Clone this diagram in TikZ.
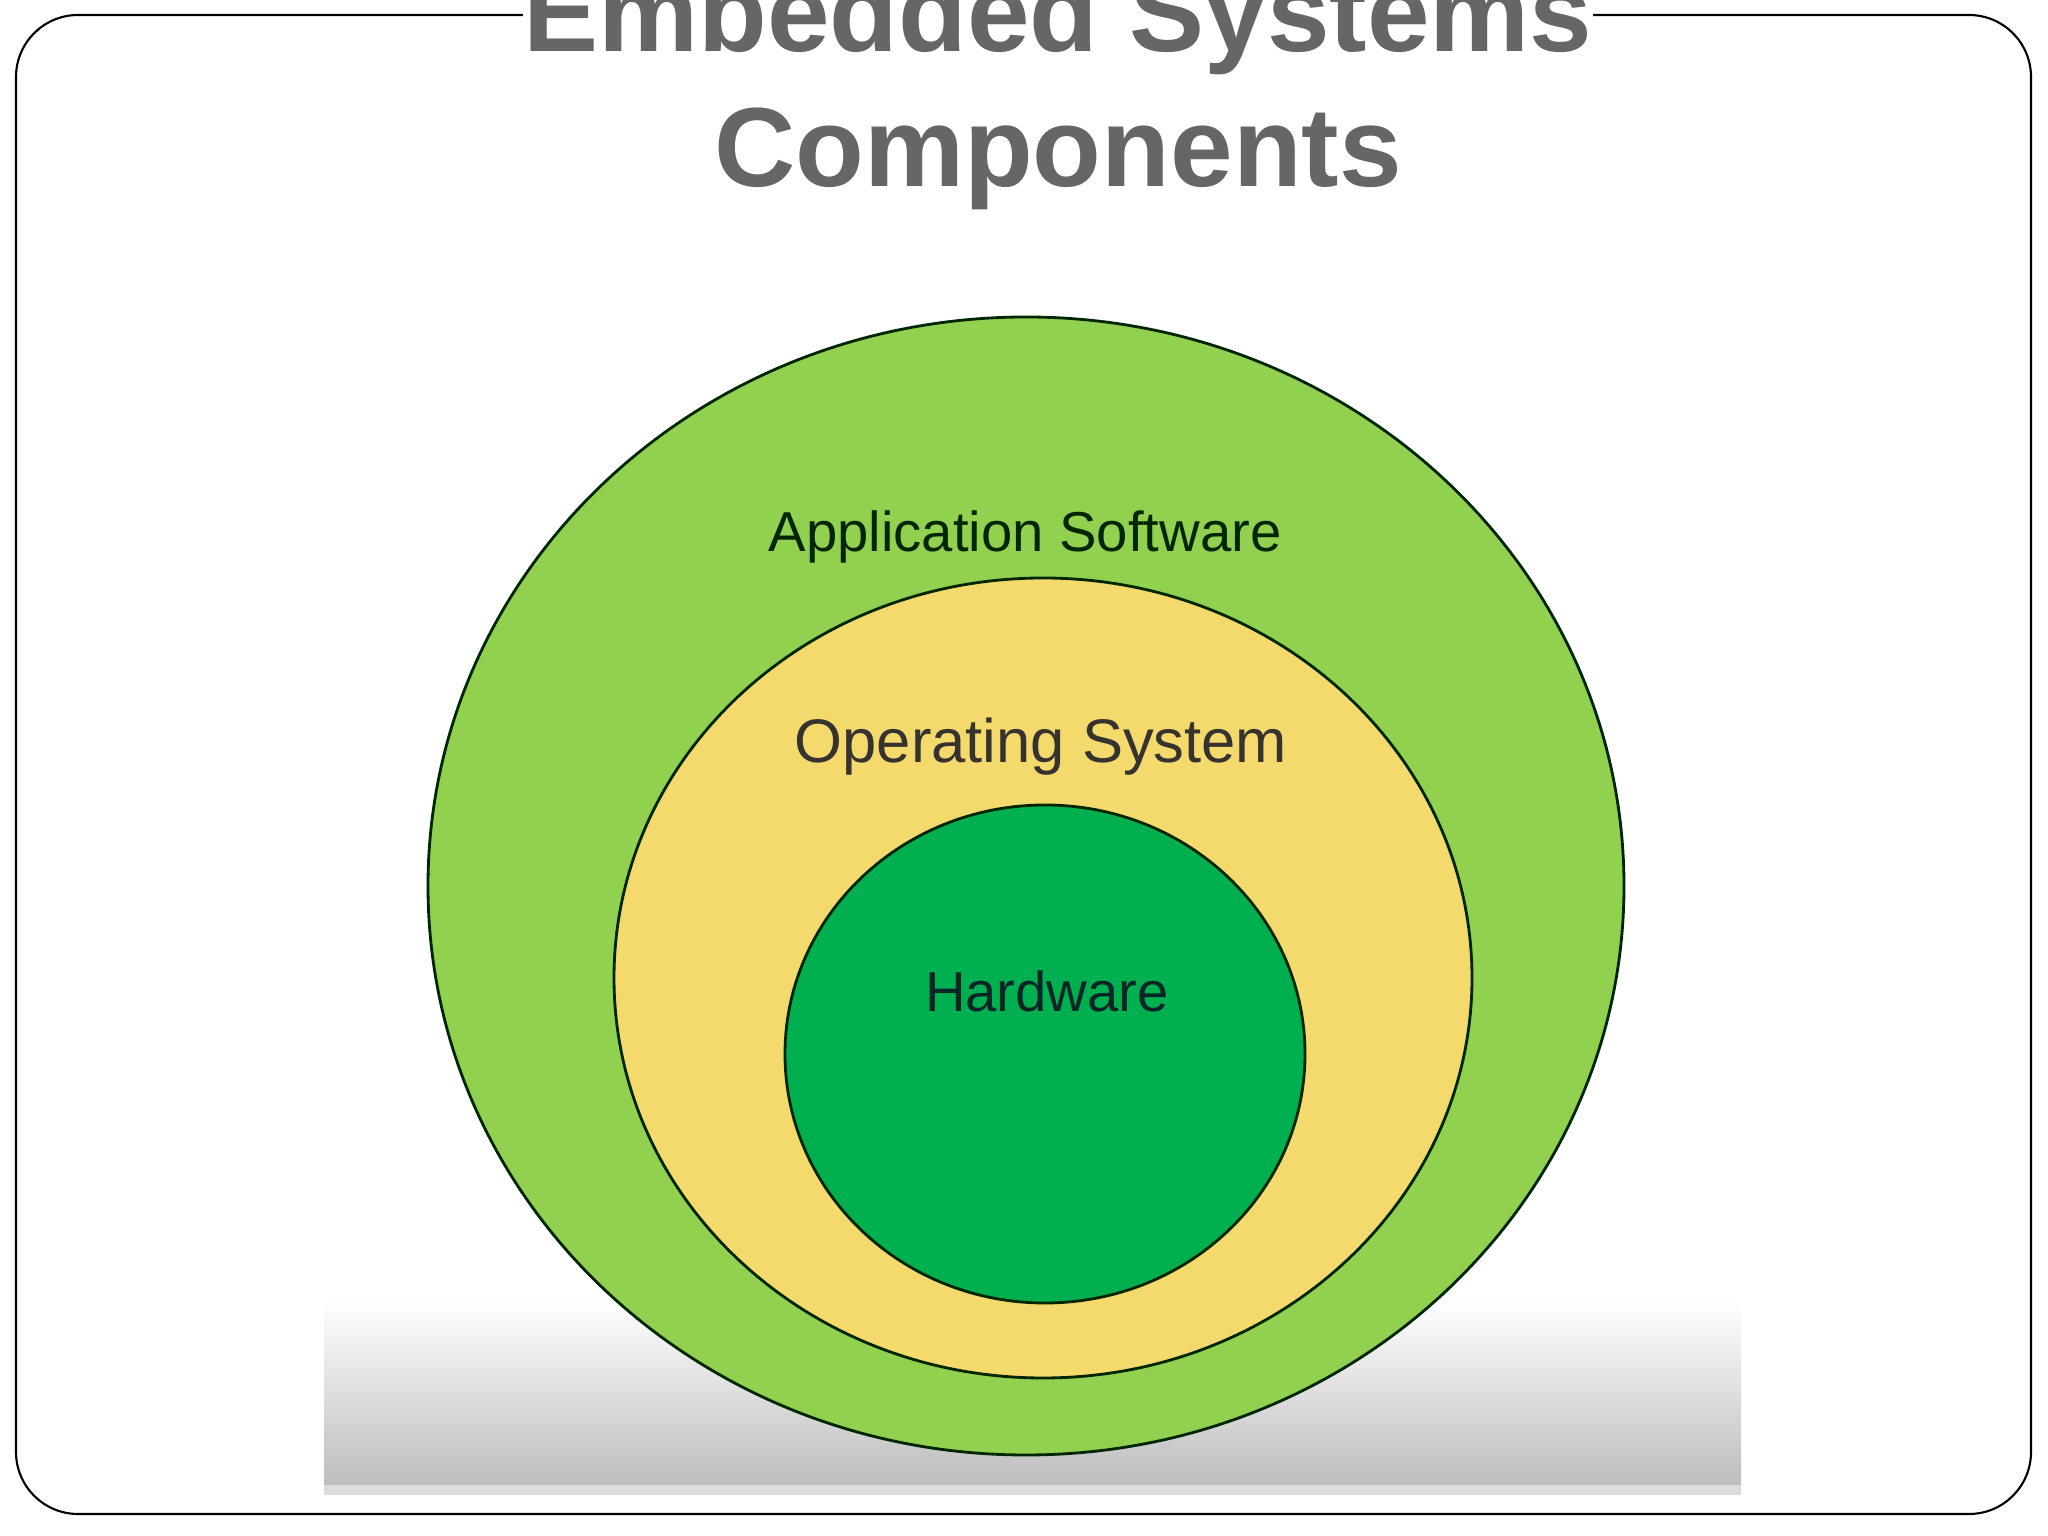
\documentclass[tikz,border=0pt]{standalone}
\usepackage{fontspec}
\setmainfont{Liberation Sans}
\usepackage{tikz}
\definecolor{appgreen}{HTML}{92D050}
\definecolor{osyellow}{HTML}{F4D96C}
\definecolor{hwgreen}{HTML}{00B050}
\definecolor{titlegray}{HTML}{666666}
\newcommand{\layer}[4]{
	\filldraw[fill=#1, draw=black!85!green, line width=0.8pt] (#2) ellipse (#3 and #4);
}

\begin{document}
\begin{tikzpicture}[x=0.01cm,y=0.01cm,
	layertext/.style={anchor=base, font=\fontsize{16}{19}\selectfont}]
	\useasboundingbox (0,0) rectangle (2048,1536);
	\coordinate (appc) at (1026,650);
	\coordinate (osc) at (1043,558);
	\coordinate (hwc) at (1045,482);

	\draw[line width=0.6pt, rounded corners=0.62cm] (16,22) rectangle (2031,1521);
	\shade[top color=white, middle color=gray!16, bottom color=gray!52] (324,51) rectangle (1741,236);
	\fill[gray!28] (324,41) rectangle (1741,51);

	\layer{appgreen}{appc}{598}{569}
	\layer{osyellow}{osc}{429}{400}
	\layer{hwgreen}{hwc}{260}{249}

	\node[layertext, text=black!75!green!60!black] (apps) at (1025,984) {Application Software};
	\node[layertext, text=black!85!yellow!60!black, font=\fontsize{17.5}{21}\selectfont] (os) at (1041,773) {Operating System};
	\node[layertext, text=black!70!teal] (hw) at (1047,524) {Hardware};

	% title runs off the top edge
	\node[anchor=base, align=center, fill=white, inner sep=0pt, text=titlegray,
		font=\bfseries\fontsize{32}{38.5}\selectfont] (title) at (1058,1349) {Embedded Systems\\Components};
\end{tikzpicture}
\end{document}
